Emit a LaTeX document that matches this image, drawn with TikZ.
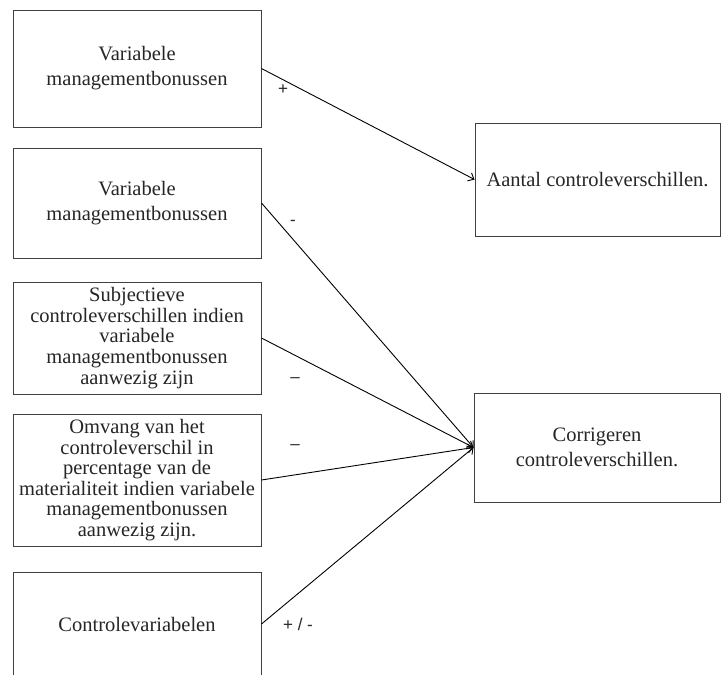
\documentclass[tikz,border=0pt]{standalone}
\usepackage{fontspec}
\setmainfont{Liberation Serif}
\newfontfamily\labfont{Liberation Sans}
\usetikzlibrary{arrows.meta,calc}
\begin{document}
\begin{tikzpicture}[x=1pt,y=-1pt,
  box/.style={draw=black!75, line width=1pt, inner sep=0pt, align=center, minimum width=248pt, text=black!85},
  wide/.style={font={\fontsize{20.5}{25}\selectfont}},
  tight/.style={font={\fontsize{20.5}{20.6}\selectfont}},
  conn/.style={draw=black, line width=0.9pt, -{Straight Barb[length=5pt,width=9pt]}},
  sign/.style={font={\labfont\fontsize{17}{17}\selectfont}, inner sep=0pt, text=black!85}]
\clip (0,0) rectangle (721,675);
\fill[white] (0,0) rectangle (721,675);
% left boxes
\node[box, wide, minimum height=117pt] (b1) at (137,68.5) {\rule{0pt}{10pt}Variabele\\managementbonussen};
\node[box, wide, minimum height=110pt] (b2) at (137,203) {\rule{0pt}{10pt}Variabele\\managementbonussen};
\node[box, tight, minimum height=112pt] (b3) at (137,338) {Subjectieve\\controleverschillen indien\\variabele\\managementbonussen\\aanwezig zijn};
\node[box, tight, minimum height=132pt] (b4) at (137,480) {Omvang van het\\controleverschil in\\percentage van de\\materialiteit indien variabele\\managementbonussen\\aanwezig zijn.};
\node[box, wide, minimum height=104pt] (b5) at (137,624) {Controlevariabelen};
% right boxes
\node[box, wide, minimum width=245pt, minimum height=113pt] (aantal) at (597.5,179.5) {Aantal controleverschillen.};
\node[box, wide, minimum width=246pt, minimum height=109pt] (corr) at (597,447.5) {Corrigeren\\controleverschillen.};
% connectors
\draw[conn] (b1.east) -- (aantal.west);
\draw[conn] (b2.east) -- (corr.west);
\draw[conn] (b3.east) -- (corr.west);
\draw[conn] (b4.east) -- (corr.west);
\draw[conn] (b5.east) -- (corr.west);
% signs
\node[sign] (s1) at (283,90) {+};
\node[sign] (s2) at (293,223) {-};
\node[sign] (s3) at (295,380) {–};
\node[sign] (s4) at (295,447) {–};
\node[sign] (s5) at (298,624) {+ / -};
\end{tikzpicture}
\end{document}
